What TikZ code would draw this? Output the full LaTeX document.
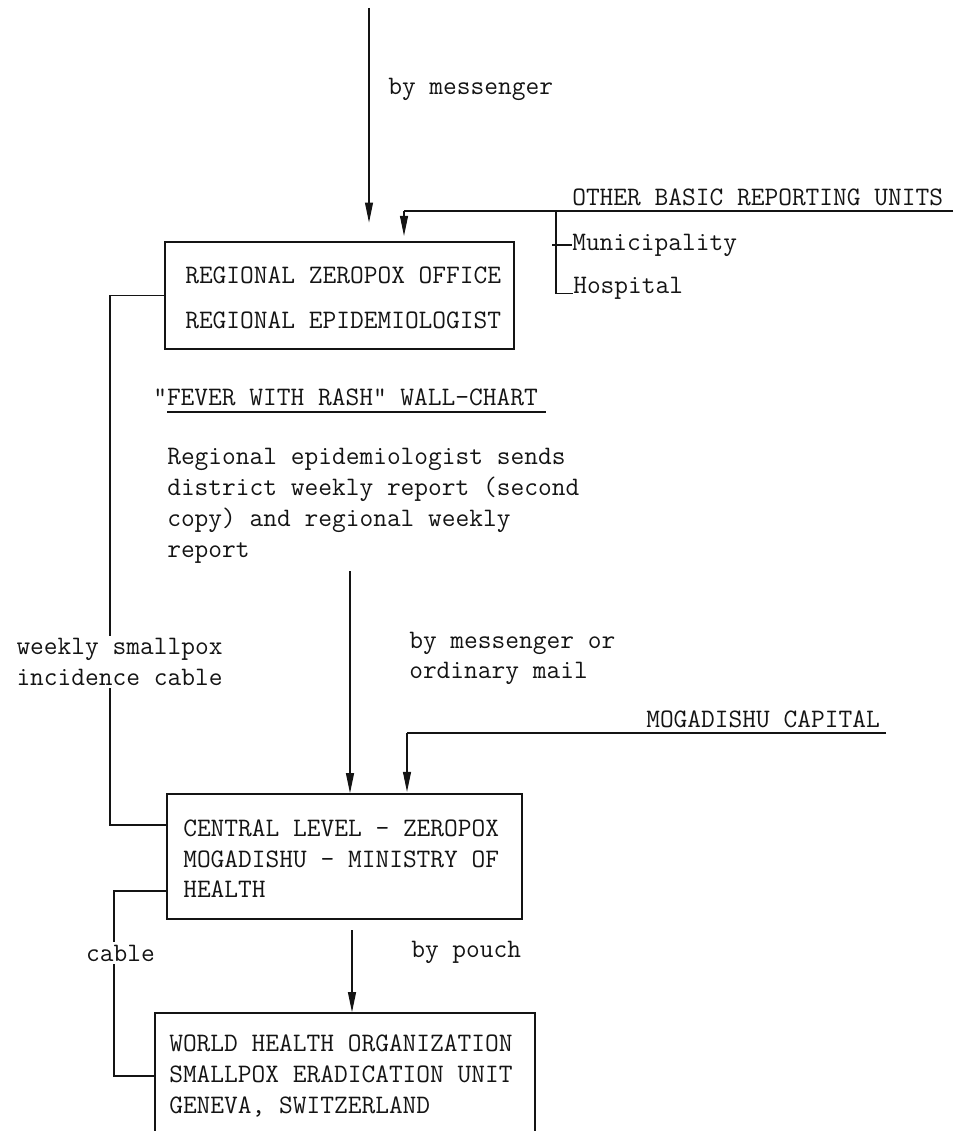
\documentclass[tikz,border=0pt]{standalone}
\usepackage{tikz}
\usetikzlibrary{arrows.meta,positioning}
\usepackage{xcolor}
\definecolor{Ink}{HTML}{141414}

\begin{document}
\begin{tikzpicture}[x=0.75pt,y=-0.75pt,>={Triangle[length=15pt,width=6pt]},
  every node/.style={font=\ttfamily\fontsize{20pt}{22.9pt}\selectfont,text=Ink,inner sep=0pt,align=left},
  office/.style={rectangle,draw=Ink,line width=1.2pt,inner sep=0pt},
  flow/.style={->,draw=Ink,line width=0.8pt},
  link/.style={draw=Ink,line width=0.8pt},
  feed/.style={draw=Ink,line width=1.2pt},
  gap/.style={fill=white,inner sep=2pt}]
  \useasboundingbox (0,0) rectangle (965,1131);
  % the three offices
  \node[office,minimum width=261.75pt,minimum height=80.25pt] (regional) at (339.5,295.5) {};
  \node[office,minimum width=266.25pt,minimum height=93.75pt] (central) at (344.5,856.5) {};
  \node[office,minimum width=285pt,minimum height=95.25pt] (who) at (345,1076.5) {};
  \node[anchor=west,font=\ttfamily\fontsize{20pt}{33.75pt}\selectfont] (regionaltext) at (185,297.5)
    {REGIONAL ZEROPOX OFFICE\\REGIONAL EPIDEMIOLOGIST};
  \node[anchor=west] (centraltext) at (183,859)
    {CENTRAL LEVEL - ZEROPOX\\MOGADISHU - MINISTRY OF\\HEALTH};
  \node[anchor=west,font=\ttfamily\fontsize{20pt}{23.4pt}\selectfont] (whotext) at (169,1076)
    {WORLD HEALTH ORGANIZATION\\SMALLPOX ERADICATION UNIT\\GENEVA, SWITZERLAND};
  % other reporting sources
  \node[anchor=west] (otherunits) at (572,197) {OTHER BASIC REPORTING UNITS};
  \node[anchor=west] (municipality) at (572,245) {Municipality};
  \node[anchor=west] (hospital) at (573,288) {Hospital};
  \node[anchor=west] (capital) at (646,719) {MOGADISHU CAPITAL};
  % channel labels
  \node[anchor=west] (bymessenger) at (388,89) {by messenger};
  \node[anchor=west] (wallchart) at (153,397) {"FEVER WITH RASH" WALL-CHART};
  \node[anchor=west,font=\ttfamily\fontsize{20pt}{23.2pt}\selectfont] (reporttext) at (167,505.5)
    {Regional epidemiologist sends\\district weekly report (second\\copy) and regional weekly\\report};
  \node[anchor=west] (messengermail) at (409,658.5) {by messenger or\\ordinary mail};
  \node[anchor=west] (bypouch) at (411,952) {by pouch};
  \coordinate (topstart) at (369,8);
  \coordinate (otherend) at (953,211);
  \coordinate (othercorner) at (404,211);
  \coordinate (branch) at (556,211);
  \coordinate (reportstart) at (350,571);
  \coordinate (capitalend) at (886,733);
  \coordinate (capitalcorner) at (407,733);
  \coordinate (pouchstart) at (352,930);
  \coordinate (weeklyrun) at (110,560);
  \coordinate (cablerun) at (114,960);
  \coordinate (centralin) at (0,825);
  \coordinate (centralout) at (0,891);
  \coordinate (whoin) at (0,1076);
  \draw[flow,shorten >=14pt] (topstart) -- (topstart |- regional.north);
  \draw[feed] (otherend) -- (othercorner);
  \draw[flow,shorten >=4pt] (othercorner) -- (othercorner |- regional.north);
  \draw[link] (branch) |- (hospital.base west);
  \draw[link] ([xshift=-3pt]branch |- municipality.west) -- (municipality.west);
  \draw[flow] (reportstart) -- (reportstart |- central.north);
  \draw[feed] (capitalend) -- (capitalcorner);
  \draw[flow,shorten >=1pt] (capitalcorner) -- (capitalcorner |- central.north);
  \draw[flow] (pouchstart) -- (pouchstart |- who.north);
  % cable lines down the left side
  \draw[link] (regional.west) -| (weeklyrun) |- (central.west |- centralin);
  \draw[link] (central.west |- centralout) -| (cablerun) |- (who.west |- whoin);
  \node[gap] (weeklylabel) at (119.5,662) {weekly smallpox\\incidence cable};
  \node[gap] (cablelabel) at (120.5,953) {cable};
  \draw[feed] (167,412) -- (546,412);
\end{tikzpicture}
\end{document}
